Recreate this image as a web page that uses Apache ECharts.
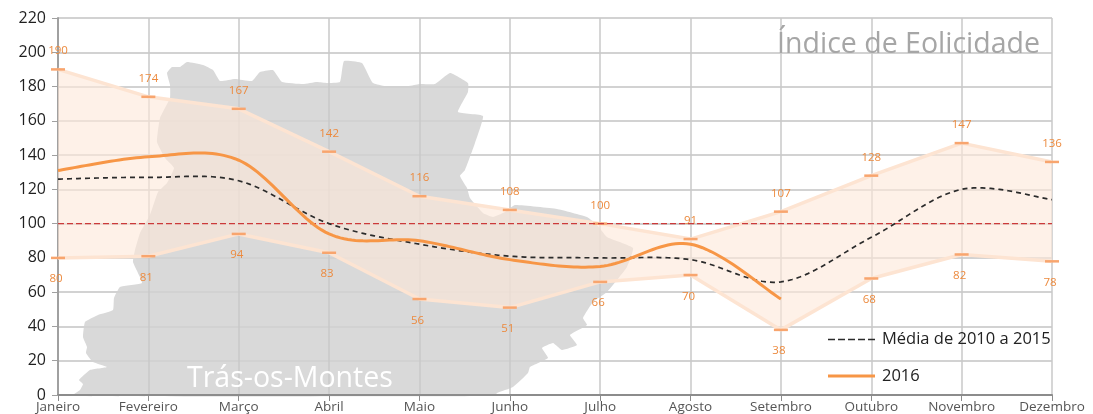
<!DOCTYPE html>
<html><head><meta charset="utf-8">
<style>html,body{margin:0;padding:0;background:#fff}#c{width:1093px;height:414px}</style>
<script src="https://cdn.jsdelivr.net/npm/echarts@6/dist/echarts.min.js"></script>
</head><body><div id="c"></div>
<script>
const months = ['Janeiro','Fevereiro','Março','Abril','Maio','Junho','Julho','Agosto','Setembro','Outubro','Novembro','Dezembro'];
const maxValues = [190,174,167,142,116,108,100,91,107,128,147,136];
const minValues = [80,81,94,83,56,51,66,70,38,68,82,78];
const avgValues = [126,127,125,100,88,81,80,79,66,92,120,114];
const values2016 = [131,139,137,94,90,79,75,88,56];
const referenceValues = months.map(() => 100);

// Background silhouette of the region (decoration, not data)
const regionOutline = [[72,396],[80,390],[83,384],[79,380],[90,370],[107,367],[93,362],[86,353],[87,347],[83,337],[85,322],[98,315],[113,310],[114,298],[120,287],[142,283],[133,262],[135,250],[140,233],[150,215],[158,192],[167,183],[174,168],[165,158],[157,142],[160,118],[170,98],[170,85],[167,73],[172,67],[180,67],[187,62],[203,65],[213,70],[220,81],[235,79],[252,81],[260,72],[273,70],[282,82],[303,84],[317,82],[327,83],[340,82],[344,61],[362,63],[373,83],[397,88],[420,84],[435,84],[450,73],[468,83],[468,92],[458,112],[483,116],[475,143],[465,170],[460,176],[467,188],[470,198],[483,213],[493,217],[505,212],[515,205],[557,209],[587,217],[597,225],[607,237],[633,248],[627,267],[607,292],[593,302],[583,318],[587,325],[570,335],[577,345],[562,350],[553,343],[542,348],[548,358],[530,367],[528,373],[513,387],[497,393],[495,396]];

const dashIcon = 'path://M0 0h7v1.5h-7zM10 0h7v1.5h-7zM20 0h7v1.5h-7zM30 0h7v1.5h-7zM40 0h7v1.5h-7z';
const solidIcon = 'path://M0 0h47v3h-47z';

function smoothSeries(name, values, color, width, dash, z) {
  return {
    type: 'custom', name, z, clip: false, silent: true,
    data: values.map((v, i) => [i, v]),
    encode: {x: 0, y: 1},
    itemStyle: {color},
    renderItem(params, api) {
      if (params.dataIndex !== 0) return null;
      const p = values.map((v, i) => api.coord([i, v]));
      const pts = [];
      for (let i = 0; i < p.length - 1; i++) {
        const p0 = p[Math.max(i - 1, 0)], p1 = p[i], p2 = p[i + 1], p3 = p[Math.min(i + 2, p.length - 1)];
        const c1 = [p1[0] + (p2[0] - p0[0]) / 6, p1[1] + (p2[1] - p0[1]) / 6];
        const c2 = [p2[0] - (p3[0] - p1[0]) / 6, p2[1] - (p3[1] - p1[1]) / 6];
        for (let k = 0; k <= 24; k++) {
          const t = k / 24, u = 1 - t;
          pts.push([0, 1].map(d => u*u*u*p1[d] + 3*u*u*t*c1[d] + 3*u*t*t*c2[d] + t*t*t*p2[d]));
        }
      }
      return {type: 'polyline', shape: {points: pts},
        style: {fill: null, stroke: color, lineWidth: width, lineDash: dash, lineCap: 'butt'}};
    }
  };
}

function edgeSeries(name, values, position, distance) {
  return {
    type: 'line', name, data: values, z: 3, clip: false, silent: true,
    symbol: 'rect', symbolSize: [14, 2.5], showSymbol: true, showAllSymbol: true,
    itemStyle: {color: '#f8a56e'},
    lineStyle: {color: '#fde4d2', width: 3.5},
    label: {show: true, position, distance, color: '#ec8a3e', fontSize: 11.5, fontFamily: 'Open Sans',
      offset: position === 'bottom' ? [-2, 0] : [0, 1]}
  };
}

const chart = echarts.init(document.getElementById('c'), null, {renderer: 'canvas'});
chart.setOption({
  animation: false,
  backgroundColor: '#fff',
  grid: {left: 58, right: 41, top: 18, bottom: 18},
  title: {text: 'Índice de Eolicidade', right: 48, top: 25,
    textStyle: {color: '#a6a6a6', fontSize: 28.5, fontWeight: 'normal', fontFamily: 'Open Sans'}},
  legend: {
    orient: 'vertical', left: 823, top: 326, itemWidth: 47, itemHeight: 3, itemGap: 19.5,
    selectedMode: false,
    textStyle: {color: '#222', fontSize: 16.5, fontFamily: 'Open Sans', padding: [0,0,0,2]},
    data: [{name: 'Média de 2010 a 2015', icon: dashIcon}, {name: '2016', icon: solidIcon}]
  },
  xAxis: {
    type: 'category', data: months, boundaryGap: false,
    axisLine: {lineStyle: {color: '#8c8c8c', width: 2}},
    axisTick: {show: true, length: 6, alignWithLabel: true, lineStyle: {color: '#8c8c8c', width: 1}},
    axisLabel: {color: '#555', fontSize: 13.5, margin: 5, fontFamily: 'Open Sans', interval: 0, hideOverlap: false,
      showMinLabel: true, showMaxLabel: true},
    splitLine: {show: true, lineStyle: {color: '#c8c8c8', width: 1.5}}
  },
  yAxis: {
    type: 'value', min: 0, max: 220, interval: 20,
    axisLine: {show: true, lineStyle: {color: '#a0a0a0', width: 2}},
    axisTick: {show: true, length: 6, lineStyle: {color: '#a0a0a0', width: 1}},
    axisLabel: {color: '#1f1f1f', fontSize: 16, margin: 12, fontFamily: 'Open Sans'},
    splitLine: {show: true, lineStyle: {color: '#d2d2d2', width: 2}}
  },
  graphic: [
    {type: 'polygon', silent: true, z: -10, shape: {points: regionOutline, smooth: 0.12}, style: {fill: '#d9d9d9'}},
    {type: 'text', silent: true, z: 50, left: 187, top: 364,
      style: {text: 'Trás-os-Montes', fill: '#fff', font: '28.5px "Open Sans"'}}
  ],
  series: [
    {type: 'line', name: 'bandBase', stack: 'band', data: minValues, symbol: 'none', lineStyle: {width: 0}, silent: true, z: 1},
    {type: 'line', name: 'band', stack: 'band', data: maxValues.map((v, i) => v - minValues[i]), symbol: 'none',
      lineStyle: {width: 0}, areaStyle: {color: 'rgba(253,232,217,0.61)', opacity: 1}, silent: true, z: 1},
    edgeSeries('Máximo', maxValues, 'top', 12),
    edgeSeries('Mínimo', minValues, 'bottom', 14),
    {type: 'line', name: 'Referência', data: referenceValues, symbol: 'none', silent: true, z: 4,
      lineStyle: {color: '#cc3a3a', width: 1.3, type: [6, 3]}},
    smoothSeries('Média de 2010 a 2015', avgValues, '#2b2b2b', 1.7, [5, 4], 5),
    smoothSeries('2016', values2016, '#f79646', 3, null, 6)
  ]
});
</script></body></html>
